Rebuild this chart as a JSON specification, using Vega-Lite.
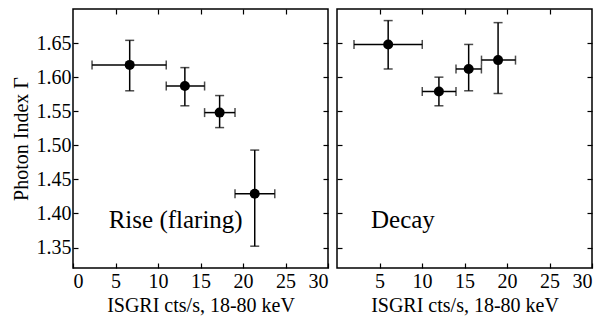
{
  "$schema": "https://vega.github.io/schema/vega-lite/v6.json",
  "background": "white",
  "padding": {"left": 10, "top": 7, "right": 5, "bottom": 5},
  "spacing": 5,
  "datasets": {
    "pts": [
      {"panel": "Rise", "x": 6.67, "xlo": 2.24, "xhi": 10.97, "y": 1.618, "ylo": 1.580, "yhi": 1.654},
      {"panel": "Rise", "x": 13.16, "xlo": 10.97, "xhi": 15.48, "y": 1.587, "ylo": 1.558, "yhi": 1.614},
      {"panel": "Rise", "x": 17.25, "xlo": 15.48, "xhi": 19.06, "y": 1.548, "ylo": 1.526, "yhi": 1.573},
      {"panel": "Rise", "x": 21.38, "xlo": 19.06, "xhi": 23.74, "y": 1.429, "ylo": 1.352, "yhi": 1.493},
      {"panel": "Decay", "x": 6.02, "xlo": 2.0, "xhi": 10.03, "y": 1.648, "ylo": 1.612, "yhi": 1.683},
      {"panel": "Decay", "x": 11.99, "xlo": 10.03, "xhi": 14.0, "y": 1.579, "ylo": 1.558, "yhi": 1.600},
      {"panel": "Decay", "x": 15.49, "xlo": 14.0, "xhi": 16.99, "y": 1.612, "ylo": 1.580, "yhi": 1.648},
      {"panel": "Decay", "x": 18.95, "xlo": 17.0, "xhi": 21.0, "y": 1.625, "ylo": 1.576, "yhi": 1.680}
    ],
    "labels": [
      {"panel": "Rise", "label": "Rise (flaring)", "x": 4.2, "y": 1.378},
      {"panel": "Decay", "label": "Decay", "x": 4.0, "y": 1.378}
    ]
  },
  "config": {
    "font": "Times New Roman, Liberation Serif, serif",
    "view": {"stroke": "black", "strokeWidth": 1.5},
    "axis": {
      "grid": false,
      "domain": false,
      "tickColor": "black",
      "tickSize": -5,
      "tickWidth": 1.2,
      "labelFont": "Times New Roman, Liberation Serif, serif",
      "labelFontSize": 20,
      "labelColor": "black",
      "titleFont": "Times New Roman, Liberation Serif, serif",
      "titleFontSize": 20,
      "titleFontWeight": "normal",
      "titleColor": "black"
    }
  },
  "hconcat": [
    {
      "width": 255,
      "height": 259,
      "data": {"name": "pts"},
      "transform": [{"filter": "datum.panel == 'Rise'"}],
      "resolve": {"axis": {"x": "independent", "y": "independent"}},
      "layer": [
        {
          "mark": {"type": "errorbar", "ticks": {"size": 9, "thickness": 1.5, "color": "black"}, "rule": {"strokeWidth": 1.5, "color": "black"}},
          "encoding": {
            "x": {"field": "xlo", "type": "quantitative", "scale": {"domain": [0, 30]}, "axis": {"orient": "bottom", "values": [0, 5, 10, 15, 20, 25, 30], "title": "ISGRI cts/s, 18-80 keV", "labelPadding": 8, "titlePadding": 4}},
            "x2": {"field": "xhi"},
            "y": {"field": "y", "type": "quantitative", "scale": {"domain": [1.32, 1.70], "nice": false, "zero": false}, "axis": {"orient": "left", "values": [1.35, 1.4, 1.45, 1.5, 1.55, 1.6, 1.65], "format": ".2f", "title": "Photon Index Γ", "labelPadding": 7, "titlePadding": 5}}
          }
        },
        {
          "mark": {"type": "errorbar", "ticks": {"size": 9, "thickness": 1.5, "color": "black"}, "rule": {"strokeWidth": 1.5, "color": "black"}},
          "encoding": {
            "x": {"field": "x", "type": "quantitative", "scale": {"domain": [0, 30]}, "axis": {"orient": "top", "values": [5, 10, 15, 20, 25], "labels": false, "title": null}},
            "y": {"field": "ylo", "type": "quantitative", "scale": {"domain": [1.32, 1.70], "nice": false, "zero": false}, "axis": {"orient": "right", "values": [1.35, 1.4, 1.45, 1.5, 1.55, 1.6, 1.65], "labels": false, "title": null}},
            "y2": {"field": "yhi"}
          }
        },
        {
          "mark": {"type": "circle", "size": 100, "color": "black", "opacity": 1},
          "encoding": {
            "x": {"field": "x", "type": "quantitative", "axis": null},
            "y": {"field": "y", "type": "quantitative", "axis": null}
          }
        },
        {
          "data": {"name": "labels"},
          "transform": [{"filter": "datum.panel == 'Rise'"}],
          "mark": {"type": "text", "align": "left", "baseline": "alphabetic", "fontSize": 25, "color": "black"},
          "encoding": {
            "x": {"field": "x", "type": "quantitative", "axis": null},
            "y": {"field": "y", "type": "quantitative", "axis": null},
            "text": {"field": "label"}
          }
        }
      ]
    },
    {
      "width": 255,
      "height": 259,
      "data": {"name": "pts"},
      "transform": [{"filter": "datum.panel == 'Decay'"}],
      "resolve": {"axis": {"x": "independent", "y": "independent"}},
      "layer": [
        {
          "mark": {"type": "errorbar", "ticks": {"size": 9, "thickness": 1.5, "color": "black"}, "rule": {"strokeWidth": 1.5, "color": "black"}},
          "encoding": {
            "x": {"field": "xlo", "type": "quantitative", "scale": {"domain": [0, 30]}, "axis": {"orient": "bottom", "values": [5, 10, 15, 20, 25, 30], "title": "ISGRI cts/s, 18-80 keV", "labelPadding": 8, "titlePadding": 4}},
            "x2": {"field": "xhi"},
            "y": {"field": "y", "type": "quantitative", "scale": {"domain": [1.32, 1.70], "nice": false, "zero": false}, "axis": {"orient": "left", "values": [1.35, 1.4, 1.45, 1.5, 1.55, 1.6, 1.65], "labels": false, "title": null}}
          }
        },
        {
          "mark": {"type": "errorbar", "ticks": {"size": 9, "thickness": 1.5, "color": "black"}, "rule": {"strokeWidth": 1.5, "color": "black"}},
          "encoding": {
            "x": {"field": "x", "type": "quantitative", "scale": {"domain": [0, 30]}, "axis": {"orient": "top", "values": [5, 10, 15, 20, 25], "labels": false, "title": null}},
            "y": {"field": "ylo", "type": "quantitative", "scale": {"domain": [1.32, 1.70], "nice": false, "zero": false}, "axis": {"orient": "right", "values": [1.35, 1.4, 1.45, 1.5, 1.55, 1.6, 1.65], "labels": false, "title": null}},
            "y2": {"field": "yhi"}
          }
        },
        {
          "mark": {"type": "circle", "size": 100, "color": "black", "opacity": 1},
          "encoding": {
            "x": {"field": "x", "type": "quantitative", "axis": null},
            "y": {"field": "y", "type": "quantitative", "axis": null}
          }
        },
        {
          "data": {"name": "labels"},
          "transform": [{"filter": "datum.panel == 'Decay'"}],
          "mark": {"type": "text", "align": "left", "baseline": "alphabetic", "fontSize": 25, "color": "black"},
          "encoding": {
            "x": {"field": "x", "type": "quantitative", "axis": null},
            "y": {"field": "y", "type": "quantitative", "axis": null},
            "text": {"field": "label"}
          }
        }
      ]
    }
  ]
}
